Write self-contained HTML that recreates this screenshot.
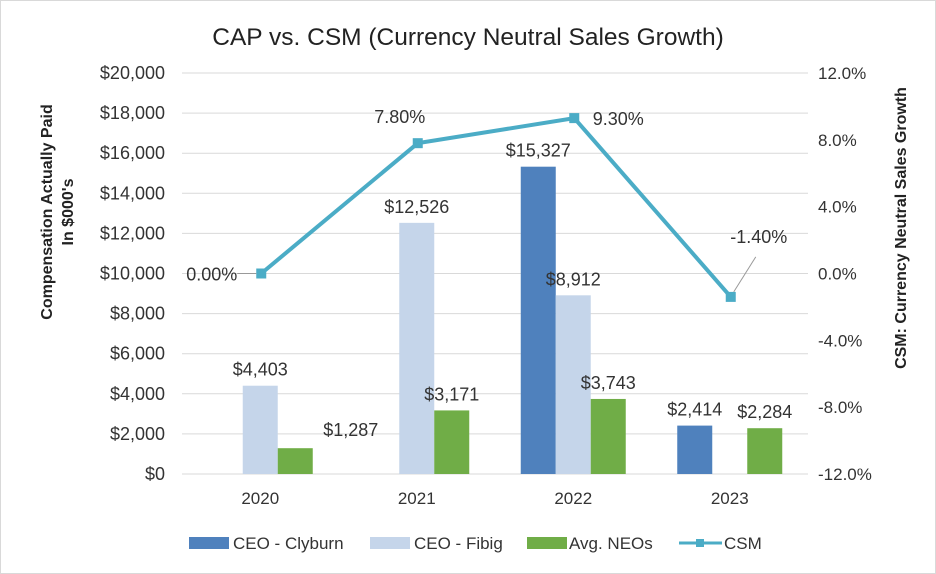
<!DOCTYPE html>
<html><head><meta charset="utf-8"><style>
body{margin:0;background:#fff;}
svg{display:block;font-family:"Liberation Sans",Calibri,sans-serif;}
</style></head><body>
<svg id="chart" width="936" height="574">
<rect x="0.5" y="0.5" width="935" height="573" fill="#fff" stroke="#d9d9d9"/>
<text x="468" y="45" font-size="24.5" text-anchor="middle" fill="#222">CAP vs. CSM (Currency Neutral Sales Growth)</text>
<g id="grid"></g><g id="bars"></g><g id="line"></g><g id="labels"></g>
<text transform="translate(55,212) rotate(-90)" font-size="16" font-weight="bold" text-anchor="middle" fill="#222"><tspan x="0" dy="-3">Compensation Actually Paid</tspan><tspan x="0" dy="21">In $000's</tspan></text>
<text transform="translate(906,228) rotate(-90)" font-size="16" font-weight="bold" text-anchor="middle" fill="#222">CSM: Currency Neutral Sales Growth</text>
<g font-size="17" fill="#333">
<rect x="189" y="537" width="40" height="12" fill="#4f81bd"/>
<text x="233" y="549">CEO - Clyburn</text>
<rect x="370" y="537" width="40" height="12" fill="#c5d5ea"/>
<text x="414" y="549">CEO - Fibig</text>
<rect x="527" y="537" width="40" height="12" fill="#70ad47"/>
<text x="569" y="549">Avg. NEOs</text>
<line x1="679" y1="543" x2="722" y2="543" stroke="#4bacc6" stroke-width="3"/>
<rect x="696" y="539" width="8" height="8" fill="#4bacc6"/>
<text x="724" y="549">CSM</text>
</g>
</svg>
<script>
const categories=["2020","2021","2022","2023"];
const clyburn=[null,null,15327,2414];
const fibig=[4403,12526,8912,null];
const neos=[1287,3171,3743,2284];
const csm=[0.0,7.8,9.3,-1.4];
const leftTicks=[0,2000,4000,6000,8000,10000,12000,14000,16000,18000,20000];
const rightTicks=[-12,-8,-4,0,4,8,12];
const NS="http://www.w3.org/2000/svg";
const X0=182,X1=808,Y0=474,Y1=73;
const band=(X1-X0)/categories.length;
const cx=i=>X0+band*(i+0.5);
const yL=v=>Y0-(v/20000)*(Y0-Y1);
const yR=v=>Y0-((v+12)/24)*(Y0-Y1);
function mk(tag,attrs,parent,txt){const e=document.createElementNS(NS,tag);for(const k in attrs)e.setAttribute(k,attrs[k]);if(txt!=null)e.textContent=txt;document.getElementById(parent).appendChild(e);return e;}
const fmt=v=>"$"+v.toLocaleString("en-US");
leftTicks.forEach(t=>{
 const l=mk("line",{x1:X0,x2:X1,y1:yL(t),y2:yL(t),stroke:"#d9d9d9","stroke-width":1},"grid");
 
 
 const tx=mk("text",{x:165,y:yL(t)+6,"text-anchor":"end","font-size":18,fill:"#333"},"grid",fmt(t));
 
 
});
rightTicks.forEach(t=>{
 const tx=mk("text",{x:818,y:yR(t)+6,"font-size":17,fill:"#333"},"grid",t.toFixed(1)+"%");
 
 
});
categories.forEach((c,i)=>{
 const tx=mk("text",{x:cx(i),y:504,"text-anchor":"middle","font-size":17,fill:"#333"},"grid",c);
 
 
});
const BW=35;
const series=[[clyburn,"#4f81bd",-52.5,"bar-clyburn"],[fibig,"#c5d5ea",-17.5,"bar-fibig"],[neos,"#70ad47",17.5,"bar-neos"]];
series.forEach(([arr,col,off,name],si)=>{
 arr.forEach((v,i)=>{
  if(v==null)return;
  const x=cx(i)+off;
  const r=mk("rect",{x:x,y:yL(v),width:BW,height:Y0-yL(v),fill:col},"bars");
  
  
  let lx=x+BW/2,ly=yL(v)-10;
  if(si===2&&i===0){lx=x+BW+38;ly=yL(v)-12;}
  const t=mk("text",{x:lx,y:ly,"text-anchor":"middle","font-size":18,fill:"#333"},"labels",fmt(v));
  
  
 });
});
const pts=csm.map((v,i)=>[cx(i)+1,yR(v)]);
const pl=mk("polyline",{points:pts.map(p=>p.join(",")).join(" "),fill:"none",stroke:"#4bacc6","stroke-width":4},"line");


pts.forEach((p,i)=>{
 const m=mk("rect",{x:p[0]-5,y:p[1]-5,width:10,height:10,fill:"#4bacc6"},"line");
 
 
 let lx,ly,anchor="middle";
 const txt=csm[i].toFixed(2)+"%";
 if(i===0){lx=p[0]-24;ly=p[1]+7;anchor="end";
  const ll=mk("line",{x1:p[0]-24,y1:p[1],x2:p[0]-5,y2:p[1],stroke:"#999"},"labels");
  }
 else if(i===1){lx=p[0]-18;ly=p[1]-20;}
 else if(i===2){lx=p[0]+44;ly=p[1]+7;}
 else {lx=p[0]+28;ly=p[1]-54;
  const ll=mk("line",{x1:p[0]+3,y1:p[1]-5,x2:p[0]+25,y2:p[1]-40,stroke:"#999"},"labels");
  }
 const t=mk("text",{x:lx,y:ly,"text-anchor":anchor,"font-size":18,fill:"#333"},"labels",txt);
 
 
});
</script>
</body></html>
